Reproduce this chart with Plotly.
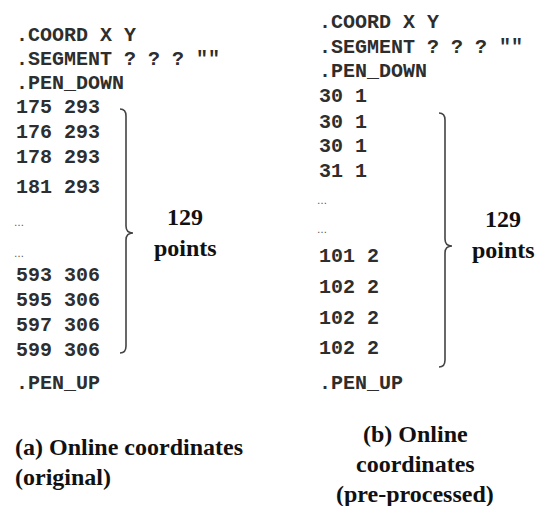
import plotly.graph_objects as go

# ---- data (text content) ----
left_header = [".COORD X Y", '.SEGMENT ? ? ? ""', ".PEN_DOWN"]
left_points_head = ["175 293", "176 293", "178 293", "181 293"]
left_points_tail = ["593 306", "595 306", "597 306", "599 306"]
right_header = [".COORD X Y", '.SEGMENT ? ? ? ""', ".PEN_DOWN"]
right_points_head = ["30 1", "30 1", "30 1", "31 1"]
right_points_tail = ["101 2", "102 2", "102 2", "102 2"]
footer = ".PEN_UP"
ellipsis = ["…", "…"]
n_points = [129, 129]
count_label = "points"
caption_a = ["(a) Online coordinates", "(original)"]
caption_b = ["(b) Online", "coordinates", "(pre-processed)"]

# ---- layout (pixel positions) ----
W, H = 537, 506
MONO = "Liberation Mono"
SERIF = "Liberation Serif"
TXT = "#2e2e2e"

left_x = 14
left_y = [35, 59, 83, 107, 132, 157, 187, 222, 253, 275, 300, 325, 350, 383]
right_x = 317
right_y = [22, 47, 71, 96, 122, 146, 171, 200, 229, 256, 287, 318, 348, 383]

annotations = []


def mono(x, y, t, size=20, color=TXT, family=MONO):
    annotations.append(dict(x=x, y=y, xref="x", yref="y", text=t, showarrow=False,
                            xanchor="left", yanchor="middle",
                            font=dict(family=family, size=size, color=color)))


def serif(x, y, t, anchor="center", size=24):
    annotations.append(dict(x=x, y=y, xref="x", yref="y", text="<b>%s</b>" % t,
                            showarrow=False, xanchor=anchor, yanchor="middle",
                            font=dict(family=SERIF, size=size, color="#111111")))


def column(x, ys, header, head, tail):
    lines = header + head + ellipsis + tail + [footer]
    for y, t in zip(ys, lines):
        if t == "…":
            mono(x - 2, y, t, size=10, color="#555555", family="DejaVu Sans")
        else:
            mono(x, y, "<b>%s</b>" % t)


column(left_x, left_y, left_header, left_points_head, left_points_tail)
column(right_x, right_y, right_header, right_points_head, right_points_tail)

serif(185, 217, str(n_points[0]))
serif(185, 248, count_label)
serif(503, 219, str(n_points[1]))
serif(503, 250, count_label)

serif(13, 447, caption_a[0], anchor="left")
serif(13, 477, caption_a[1], anchor="left")
for y, t in zip([434, 464, 494], caption_b):
    serif(415, y, t)


def brace(x0, xv, xt, top, tip, bottom):
    r = 7
    return ("M %g,%g Q %g,%g %g,%g L %g,%g Q %g,%g %g,%g Q %g,%g %g,%g L %g,%g Q %g,%g %g,%g"
            % (x0, top, xv, top, xv, top + r,
               xv, tip - r, xv, tip, xt, tip,
               xv, tip, xv, tip + r,
               xv, bottom - r, xv, bottom, x0, bottom))


shapes = [
    dict(type="path", xref="x", yref="y", path=brace(120, 126, 133, 109, 233, 353),
         line=dict(color="#444444", width=1.6)),
    dict(type="path", xref="x", yref="y", path=brace(439, 445, 452, 113, 246, 367),
         line=dict(color="#444444", width=1.6)),
]

fig = go.Figure()
fig.update_layout(
    width=W, height=H, margin=dict(l=0, r=0, t=0, b=0),
    paper_bgcolor="white", plot_bgcolor="white",
    xaxis=dict(range=[0, W], visible=False, fixedrange=True),
    yaxis=dict(range=[H, 0], visible=False, fixedrange=True),
    annotations=annotations, shapes=shapes, showlegend=False,
)
fig.write_html("out.html", config={"displayModeBar": False},
               post_script="document.body.style.margin='0';document.body.style.overflow='hidden';")
